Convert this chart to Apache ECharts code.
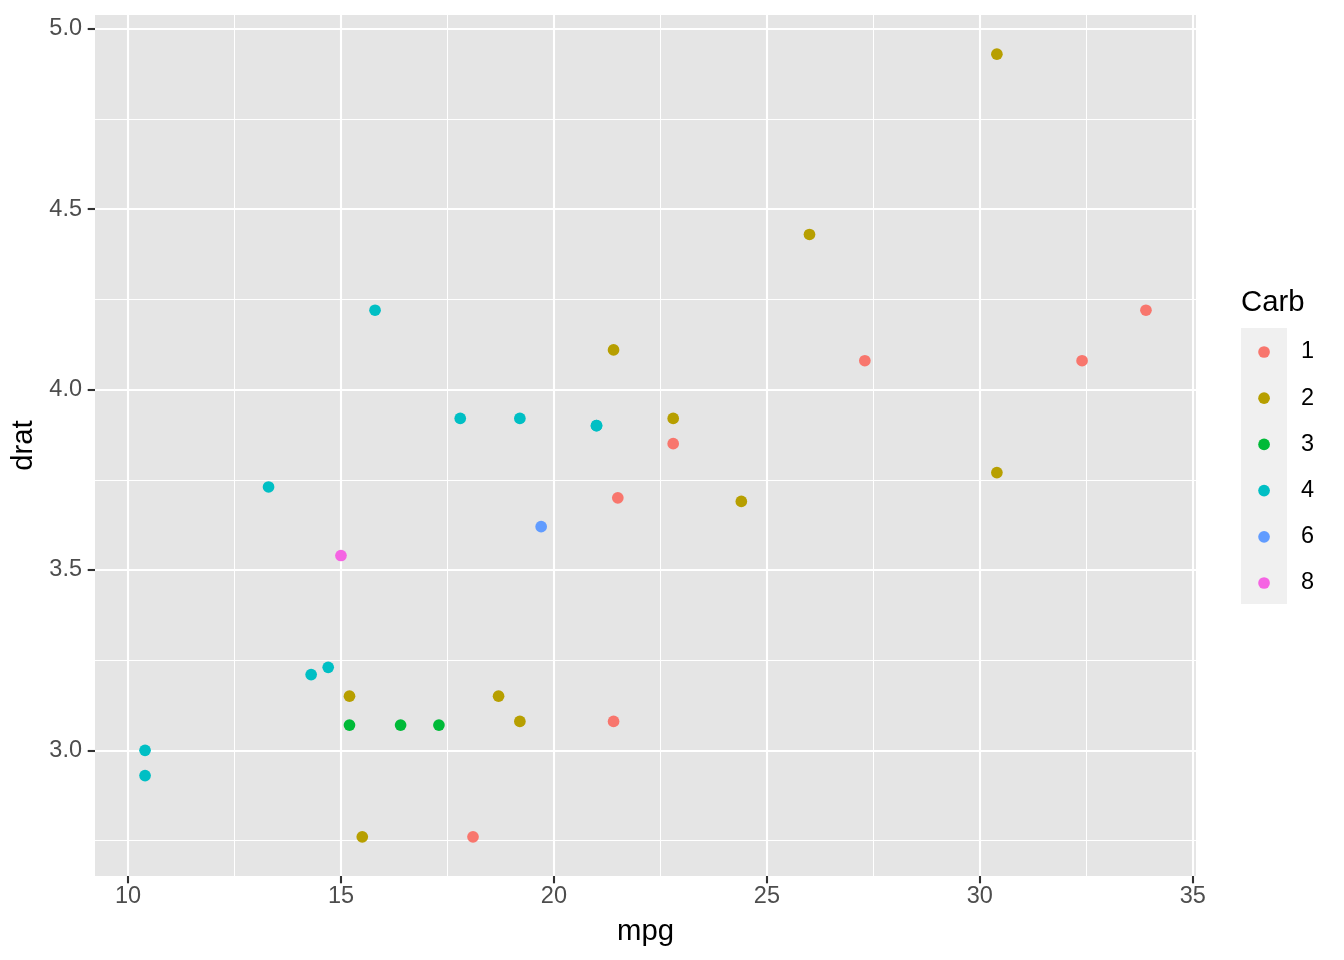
<!DOCTYPE html>
<html>
<head>
<meta charset="utf-8">
<script src="https://cdn.jsdelivr.net/npm/echarts@6/dist/echarts.min.js"></script>
<style>html,body{margin:0;padding:0;background:#fff}#c{width:1344px;height:960px}</style>
</head>
<body>
<div id="c"></div>
<script>
// mtcars: mpg, drat, carb
const mpg  = [21.0,21.0,22.8,21.4,18.7,18.1,14.3,24.4,22.8,19.2,17.8,16.4,17.3,15.2,10.4,10.4,14.7,32.4,30.4,33.9,21.5,15.5,15.2,13.3,19.2,27.3,26.0,30.4,15.8,19.7,15.0,21.4];
const drat = [3.90,3.90,3.85,3.08,3.15,2.76,3.21,3.69,3.92,3.92,3.92,3.07,3.07,3.07,2.93,3.00,3.23,4.08,4.93,4.22,3.70,2.76,3.15,3.73,3.08,4.08,4.43,3.77,4.22,3.62,3.54,4.11];
const carb = [4,4,1,1,2,1,4,2,2,4,4,3,3,3,4,4,4,1,2,1,1,2,2,4,2,1,2,2,4,6,8,2];
const carbLevels = [1,2,3,4,6,8];
const carbColors = ['#F8766D','#B79F00','#00BA38','#00BFC4','#619CFF','#F564E3'];
const xTicks = [10,15,20,25,30,35];
const xMinor = [12.5,17.5,22.5,27.5,32.5];
const yTicks = [3.0,3.5,4.0,4.5,5.0];
const yMinor = [2.75,3.25,3.75,4.25,4.75];
const xMin = 9.225, xMax = 35.075;
const yMin = 2.6515, yMax = 5.0385;

const FONT = '"Liberation Sans", Arial, Helvetica, sans-serif';
const chart = echarts.init(document.getElementById('c'), null, {renderer: 'canvas'});

const series = carbLevels.map((lv, i) => ({
  type: 'scatter',
  name: String(lv),
  symbol: 'circle',
  symbolSize: 11.7,
  itemStyle: {color: carbColors[i], opacity: 1},
  data: mpg.map((m, k) => carb[k] === lv ? [m, drat[k]] : null).filter(d => d),
  emphasis: {disabled: true},
  z: 5
}));

const gridL = 95, gridR = 148, gridT = 15, gridB = 84;

chart.setOption({
  animation: false,
  backgroundColor: '#ffffff',
  textStyle: {fontFamily: FONT},
  grid: {left: gridL, right: gridR, top: gridT, bottom: gridB, show: true, backgroundColor: '#E5E5E5', borderWidth: 0, containLabel: false},
  graphic: [
    {type: 'rect', left: 1241, top: 328, shape: {width: 46, height: 276}, style: {fill: '#F0F0F0'}, z: 0, silent: true},
    {type: 'text', left: 1241, top: 288, style: {text: 'Carb', font: '29.3px ' + FONT, fill: '#000000'}, silent: true}
  ],
  legend: {
    orient: 'vertical',
    left: 1258.2,
    top: 340,
    padding: 0,
    itemWidth: 11.7,
    itemHeight: 11.7,
    itemGap: 22.2,
    icon: 'circle',
    selectedMode: false,
    textStyle: {fontSize: 23.5, color: '#000000', fontFamily: FONT, padding: [0,0,0,26], lineHeight: 24},
    data: carbLevels.map(String)
  },
  xAxis: [
    {
      type: 'value', min: xMin, max: xMax,
      name: 'mpg', nameLocation: 'middle', nameGap: 41,
      nameTextStyle: {fontSize: 29.3, color: '#000000', fontFamily: FONT},
      axisLine: {show: false},
      axisTick: {show: true, length: 7.3, lineStyle: {color: '#333333', width: 2.1}, customValues: xTicks},
      axisLabel: {show: true, customValues: xTicks, fontSize: 23.5, color: '#4D4D4D', margin: 9, fontFamily: FONT, formatter: v => String(v)},
      splitLine: {show: true, lineStyle: {color: '#FFFFFF', width: 2.1}},
      minorSplitLine: {show: false}
    },
    {
      type: 'value', min: xMin, max: xMax, position: 'top',
      axisLine: {show: false},
      axisTick: {show: false, customValues: xMinor},
      axisLabel: {show: false},
      splitLine: {show: true, lineStyle: {color: '#FFFFFF', width: 1.05}}
    }
  ],
  yAxis: [
    {
      type: 'value', min: yMin, max: yMax,
      name: 'drat', nameLocation: 'middle', nameGap: 53, nameRotate: 90,
      nameTextStyle: {fontSize: 29.3, color: '#000000', fontFamily: FONT},
      axisLine: {show: false},
      axisTick: {show: true, length: 7.3, lineStyle: {color: '#333333', width: 2.1}, customValues: yTicks},
      axisLabel: {show: true, customValues: yTicks, fontSize: 23.5, color: '#4D4D4D', margin: 13, fontFamily: FONT, formatter: v => v.toFixed(1)},
      splitLine: {show: true, lineStyle: {color: '#FFFFFF', width: 2.1}}
    },
    {
      type: 'value', min: yMin, max: yMax, position: 'right',
      axisLine: {show: false},
      axisTick: {show: false, customValues: yMinor},
      axisLabel: {show: false},
      splitLine: {show: true, lineStyle: {color: '#FFFFFF', width: 1.05}}
    }
  ],
  series: series
});
</script>
</body>
</html>
